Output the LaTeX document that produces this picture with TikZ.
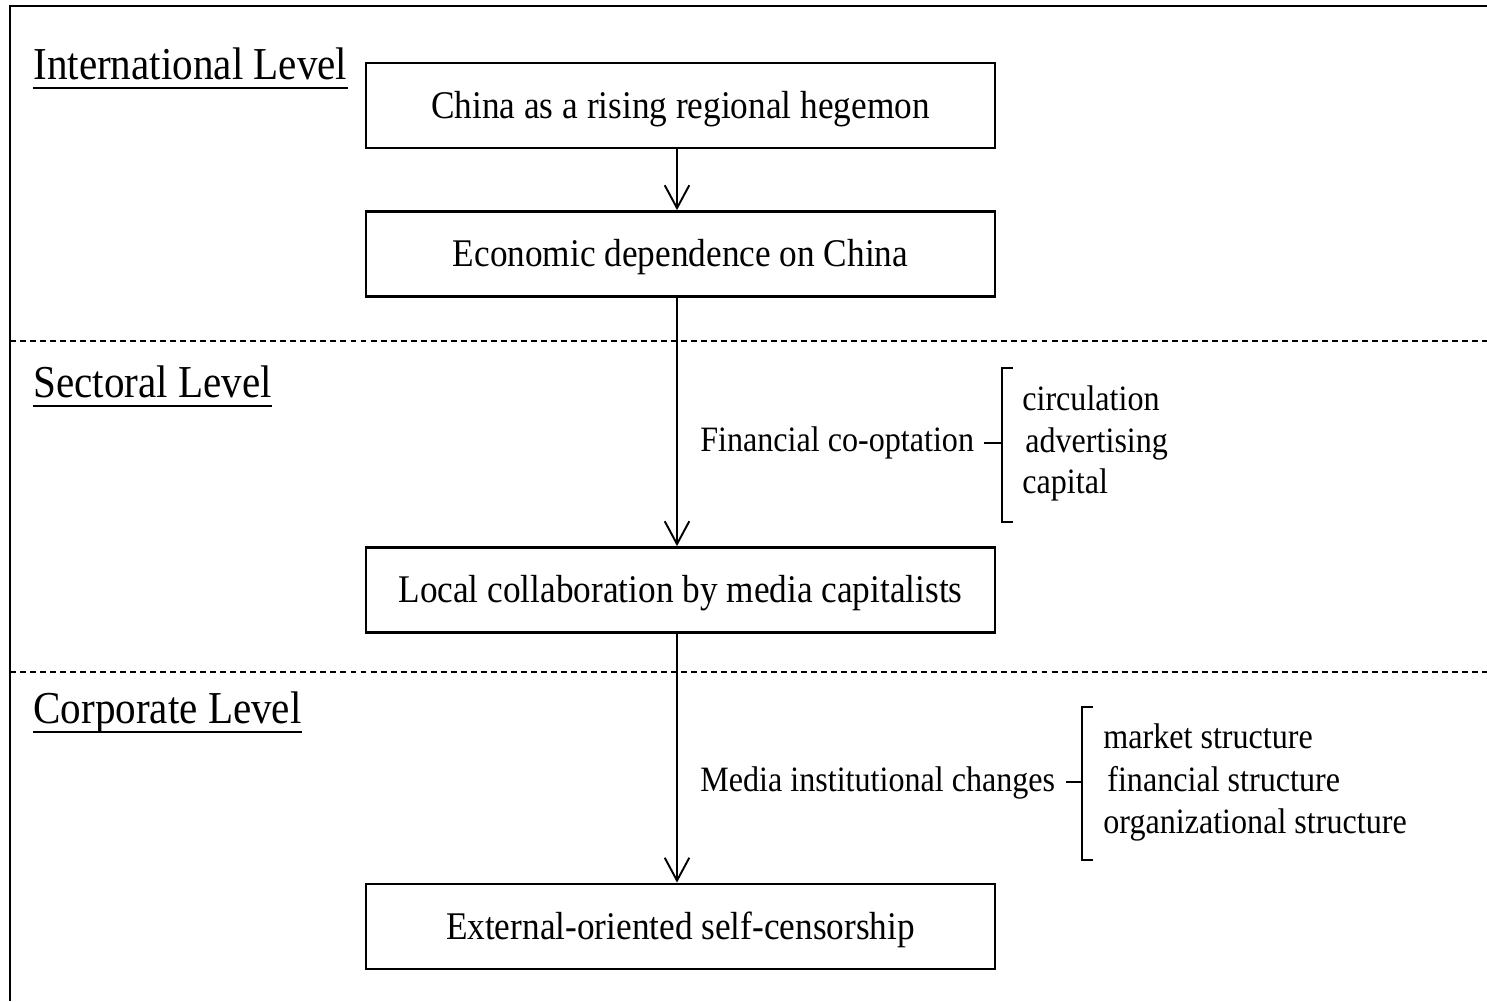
\documentclass[tikz,border=0pt]{standalone}
\usepackage{fontspec}
\setmainfont{Liberation Serif}[FakeStretch=0.9]
\usetikzlibrary{arrows.meta}
\begin{document}
\begin{tikzpicture}[x=0.02cm,y=-0.02cm,
  stage/.style={draw,line width=1.6pt,rectangle,inner sep=0pt,
    minimum width=12.58cm,minimum height=1.7cm,
    text height=16pt,text depth=1.6pt,
    font=\fontsize{22.3}{26}\selectfont},
  levelname/.style={anchor=base west,inner sep=0pt,
    font=\fontsize{26}{30}\selectfont},
  sidenote/.style={anchor=base west,inner sep=0pt,
    font=\fontsize{20.3}{24}\selectfont},
  flow/.style={line width=1.1pt,-{Straight Barb[length=13pt,width=14pt,line width=1.1pt]}},
  divider/.style={line width=0.8pt,dash pattern=on 3.4pt off 2.3pt},
  bracket/.style={line width=0.8pt},
  rule/.style={line width=1pt}]

\useasboundingbox (0,0) rectangle (1487,1001);

% outer frame (left and top edges)
\draw[line width=1.7pt] (10,1001) -- (10,6) -- (1487,6);

% level dividers
\draw[divider] (10,341) -- (1487,341);
\draw[divider] (10,672) -- (1487,672);

% level names
\node[levelname] (intl) at (33,79) {International Level};
\node[levelname] (sect) at (33,397) {Sectoral Level};
\node[levelname] (corp) at (33,723) {Corporate Level};
\draw[rule] ([yshift=-9*0.02cm]intl.base west) -- ([yshift=-9*0.02cm]intl.base east);
\draw[rule] ([yshift=-9*0.02cm]sect.base west) -- ([yshift=-9*0.02cm]sect.base east);
\draw[rule] ([yshift=-9*0.02cm]corp.base west) -- ([yshift=-9*0.02cm]corp.base east);

% stages
\node[stage] (b1) at (680.5,105.5) {China as a rising regional hegemon};
\node[stage] (b2) at (680.5,254) {Economic dependence on China};
\node[stage] (b3) at (680.5,590) {Local collaboration by media capitalists};
\node[stage] (b4) at (680.5,926.5) {External-oriented self-censorship};

\coordinate (col) at (677,0);
\draw[flow] (b1.south -| col) -- (b2.north -| col);
\draw[flow] (b2.south -| col) -- (b3.north -| col);
\draw[flow] (b3.south -| col) -- (b4.north -| col);

% sectoral mechanism
\node[sidenote] (fin) at (700,451) {Financial co-optation};
\node[sidenote] (circ) at (1022,410) {circulation};
\node[sidenote] (adv) at (1025,452) {advertising};
\node[sidenote] (cap) at (1022,493) {capital};
\coordinate (fbr) at (1002,443);
\draw[bracket] (1013,368) -- (1002,368) -- (1002,522) -- (1013,522);
\draw[bracket] ([xshift=10*0.02cm]fin.east |- fbr) -- (fbr);

% corporate mechanism
\node[sidenote] (inst) at (700,791) {Media institutional changes};
\node[sidenote] (mkt) at (1103,748) {market structure};
\node[sidenote] (fst) at (1107,791) {financial structure};
\node[sidenote] (org) at (1103,833) {organizational structure};
\coordinate (ibr) at (1082,782);
\draw[bracket] (1093,707) -- (1082,707) -- (1082,860) -- (1093,860);
\draw[bracket] ([xshift=10*0.02cm]inst.east |- ibr) -- (ibr);
\end{tikzpicture}
\end{document}
